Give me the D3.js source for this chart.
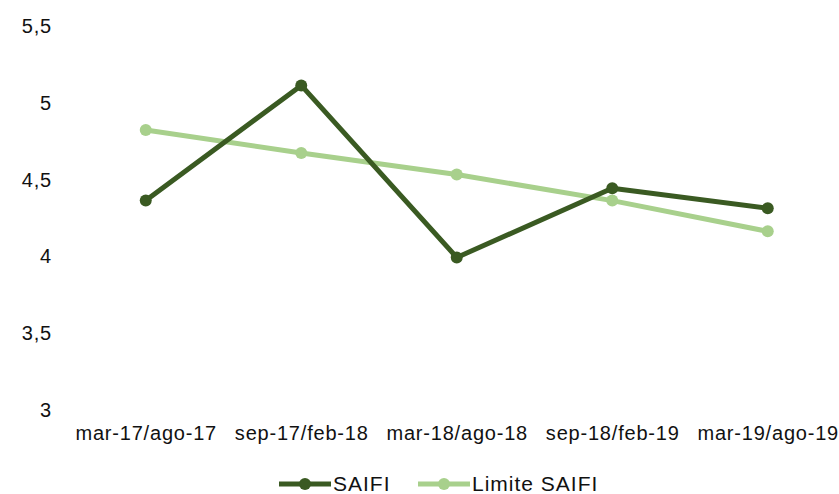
<!DOCTYPE html>
<html>
<head>
<meta charset="utf-8">
<script src="https://cdn.jsdelivr.net/npm/d3@7/dist/d3.min.js"></script>
<style>
  html, body { margin: 0; padding: 0; background: #fff; }
  svg text { font-family: "Liberation Sans", Arial, sans-serif; fill: #111; }
</style>
</head>
<body>
<svg id="chart" width="839" height="494"></svg>
<script>
// Periods (semesters) on the x axis
const periods = ["mar-17/ago-17", "sep-17/feb-18", "mar-18/ago-18", "sep-18/feb-19", "mar-19/ago-19"];
// SAIFI measured per period
const saifi = [4.36, 5.11, 3.99, 4.44, 4.31];
// Regulatory SAIFI limit per period
const limiteSaifi = [4.82, 4.67, 4.53, 4.36, 4.16];
// Y axis ticks
const yTicks = [3, 3.5, 4, 4.5, 5, 5.5];
const seriesNames = ["SAIFI", "Limite SAIFI"];

const colors = { dark: "#3a5a22", light: "#a8d08c" };

const svg = d3.select("#chart");

const x = d3.scalePoint().domain(periods).range([68, 845.5]).padding(0.5);
const y = d3.scaleLinear().domain([3, 5.5]).range([409.5, 25.5]);

// Y axis labels (no axis line, no gridlines)
const yAxis = d3.axisLeft(y).tickValues(yTicks)
  .tickFormat(d => String(d).replace(".", ","))
  .tickSize(0).tickPadding(0);
const gy = svg.append("g").attr("transform", "translate(52,0)").call(yAxis);
gy.select(".domain").remove();
gy.selectAll("text")
  .attr("dy", "0.35em")
  .style("font-size", "20px")
  .style("letter-spacing", "0.8px")
  .style("font-family", "'Liberation Sans', Arial, sans-serif")
  .attr("fill", "#111");

// X axis labels
const xAxis = d3.axisBottom(x).tickSize(0).tickPadding(0);
const gx = svg.append("g").attr("transform", "translate(0,433)").call(xAxis);
gx.select(".domain").remove();
gx.selectAll("text")
  .attr("dy", "0.35em")
  .attr("y", 0)
  .style("font-size", "20px")
  .style("letter-spacing", "0.8px")
  .style("font-family", "'Liberation Sans', Arial, sans-serif")
  .attr("fill", "#111");

const line = d3.line().x((d, i) => x(periods[i])).y(d => y(d));

function drawSeries(values, color) {
  svg.append("path")
    .datum(values)
    .attr("d", line)
    .attr("fill", "none")
    .attr("stroke", color)
    .attr("stroke-width", 5)
    .attr("stroke-linejoin", "round");
  svg.append("g").selectAll("circle")
    .data(values)
    .join("circle")
    .attr("cx", (d, i) => x(periods[i]))
    .attr("cy", d => y(d))
    .attr("r", 6)
    .attr("fill", color);
}

drawSeries(limiteSaifi, colors.light);
drawSeries(saifi, colors.dark);

// Legend
const legend = svg.append("g").attr("transform", "translate(0,484)");
const legendItems = [
  { name: seriesNames[0], color: colors.dark, x0: 279 },
  { name: seriesNames[1], color: colors.light, x0: 418 }
];
legendItems.forEach(it => {
  legend.append("line")
    .attr("x1", it.x0).attr("x2", it.x0 + 52)
    .attr("y1", 0).attr("y2", 0)
    .attr("stroke", it.color).attr("stroke-width", 5);
  legend.append("circle")
    .attr("cx", it.x0 + 26).attr("cy", 0).attr("r", 6)
    .attr("fill", it.color);
  legend.append("text")
    .attr("x", it.x0 + 54).attr("y", 0).attr("dy", "0.35em")
    .style("font-size", "21px")
    .style("letter-spacing", "1px")
    .text(it.name);
});
</script>
</body>
</html>
